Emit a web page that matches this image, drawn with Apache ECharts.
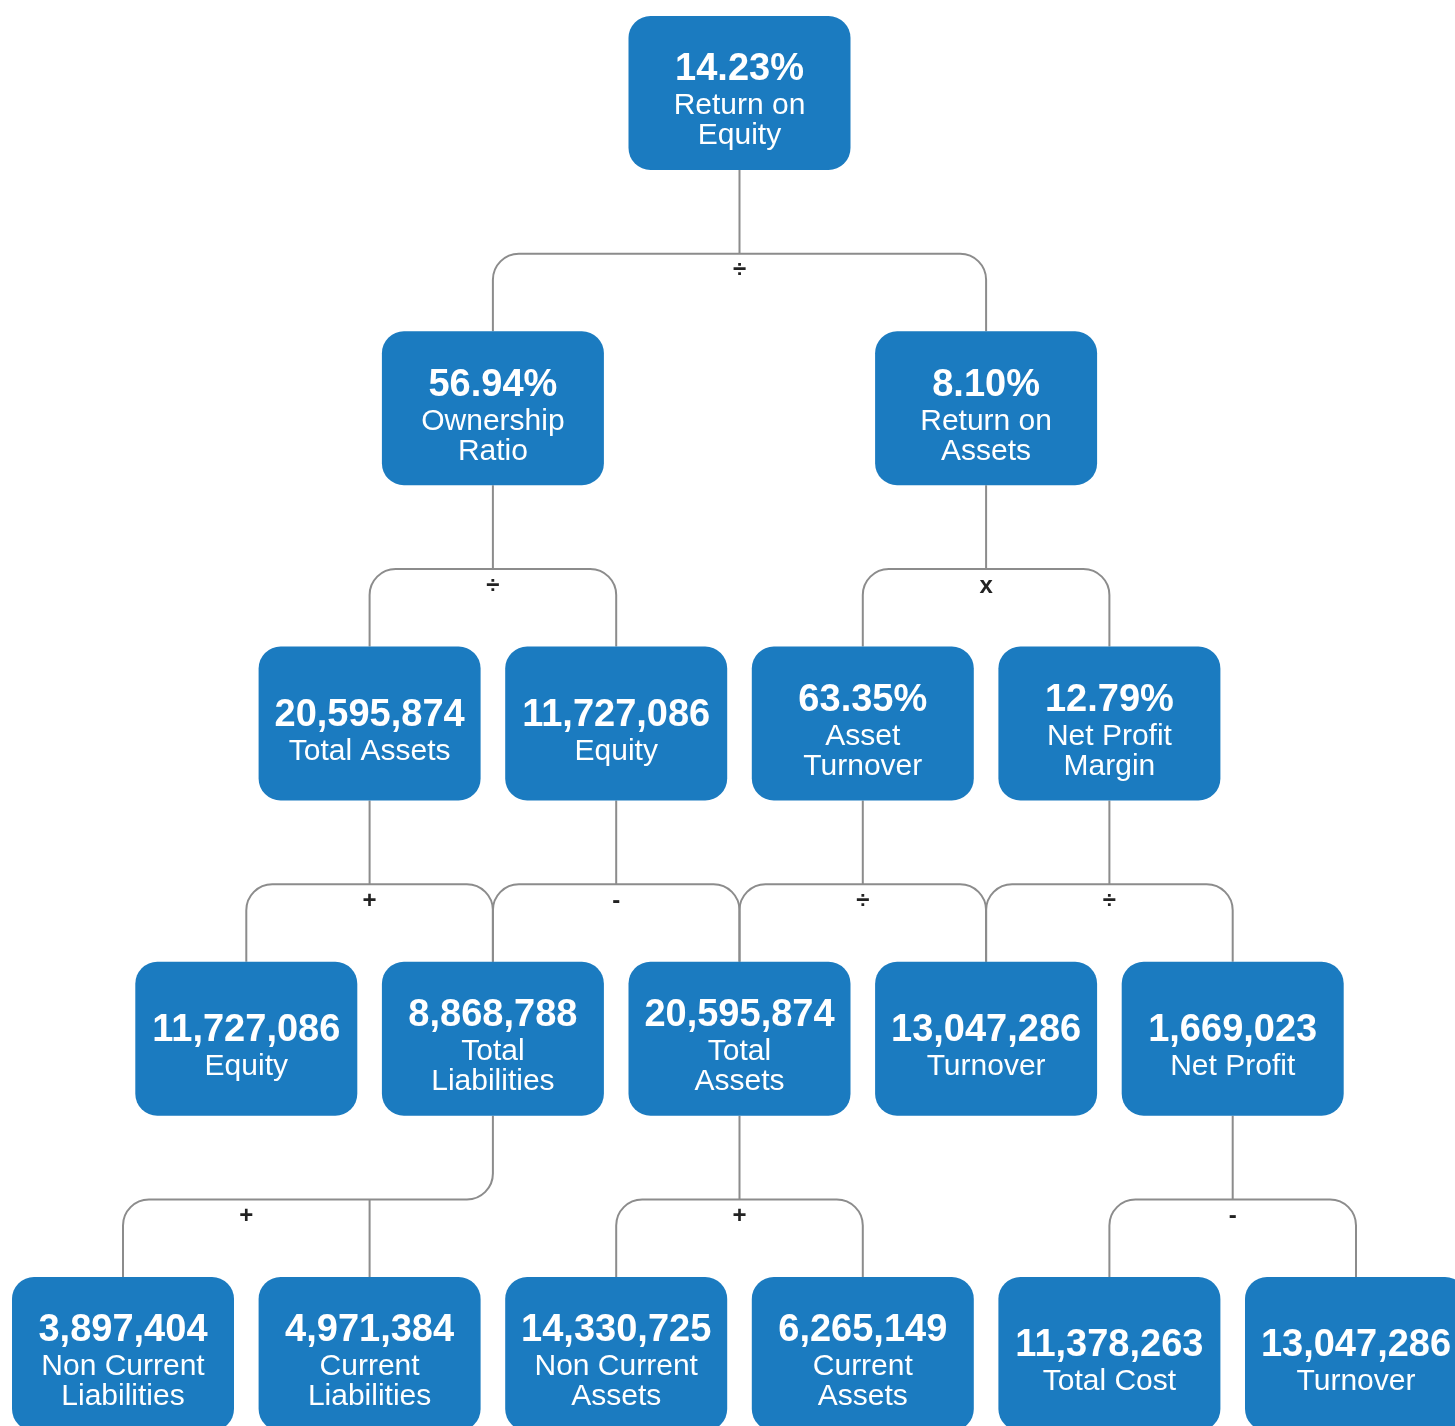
<!DOCTYPE html>
<html>
<head>
<meta charset="utf-8">
<script src="https://cdn.jsdelivr.net/npm/echarts@6/dist/echarts.min.js"></script>
<style>
html,body{margin:0;padding:0;background:#fff;}
#chart{width:1455px;height:1426px;}
</style>
</head>
<body>
<div id="chart"></div>
<script>
// ---- data ----
const nodeValues = [14.23, 56.94, 8.10, 20595874, 11727086, 63.35, 12.79,
  11727086, 8868788, 20595874, 13047286, 1669023,
  3897404, 4971384, 14330725, 6265149, 11378263, 13047286];
const nodeUnits = ['%', '%', '%', '', '', '%', '%',
  '', '', '', '', '',
  '', '', '', '', '', ''];
const nodeLabels = ['Return on\nEquity', 'Ownership\nRatio', 'Return on\nAssets',
  'Total Assets', 'Equity', 'Asset\nTurnover', 'Net Profit\nMargin',
  'Equity', 'Total\nLiabilities', 'Total\nAssets', 'Turnover', 'Net Profit',
  'Non Current\nLiabilities', 'Current\nLiabilities', 'Non Current\nAssets', 'Current\nAssets', 'Total Cost', 'Turnover'];
const nodeLevels = [0, 1, 1, 2, 2, 2, 2, 3, 3, 3, 3, 3, 4, 4, 4, 4, 4, 4];
const nodeSlots  = [5, 3, 7, 2, 4, 6, 8, 1, 3, 5, 7, 9, 0, 2, 4, 6, 8, 10];
const groupParents   = [0, 1, 2, 3, 4, 5, 6, 8, 9, 11];
const groupChildren  = [[1, 2], [3, 4], [5, 6], [7, 8], [8, 9], [9, 10], [10, 11], [12, 13], [14, 15], [16, 17]];
const groupOperators = ['÷', '÷', 'x', '+', '-', '÷', '÷', '+', '+', '-'];

// ---- style constants ----
const BOX_W = 222, BOX_H = 154, BOX_R = 22;
const BOX_COLOR = '#1b7bc0';
const LINE_COLOR = '#8c8c8c';
const CORNER = 26;
const FONT = '"Liberation Sans", Helvetica, Arial, sans-serif';

function fmtValue(i) {
  const v = nodeValues[i];
  if (nodeUnits[i] === '%') return v.toFixed(2) + '%';
  return v.toLocaleString('en-US');
}

function renderBox(params, api) {
  const i = api.value(2);
  const c = api.coord([api.value(0), api.value(1)]);
  const lines = nodeLabels[i].split('\n').map(function (l) { return '{l|' + l + '}'; });
  return {
    type: 'group',
    children: [
      {
        type: 'rect',
        shape: { x: c[0] - BOX_W / 2, y: c[1] - BOX_H / 2, width: BOX_W, height: BOX_H, r: BOX_R },
        style: { fill: BOX_COLOR }
      },
      {
        type: 'text',
        x: c[0], y: c[1] + 7,
        style: {
          text: '{v|' + fmtValue(i) + '}\n' + lines.join('\n'),
          align: 'center', verticalAlign: 'middle',
          fill: '#fff', fontFamily: FONT,
          rich: {
            v: { fontSize: 38, fontWeight: 'bold', lineHeight: 42, fill: '#fff', fontFamily: FONT, align: 'center' },
            l: { fontSize: 30, lineHeight: 30, fill: '#fff', fontFamily: FONT, align: 'center' }
          }
        }
      }
    ]
  };
}

function cornerSeg(from, corner, to) {
  const k = 0.5523;
  const c1 = [from[0] + k * (corner[0] - from[0]), from[1] + k * (corner[1] - from[1])];
  const c2 = [to[0] + k * (corner[0] - to[0]), to[1] + k * (corner[1] - to[1])];
  return ' C' + c1[0] + ' ' + c1[1] + ' ' + c2[0] + ' ' + c2[1] + ' ' + to[0] + ' ' + to[1];
}

function renderLinks(params, api) {
  const g = api.value(2);
  const pLevel = api.value(1);
  const p = api.coord([api.value(0), pLevel]);
  const pBottom = p[1] + BOX_H / 2;
  const hy = api.coord([0, pLevel + 0.51])[1];
  const kids = groupChildren[g].map(function (c) {
    const pt = api.coord([nodeSlots[c], nodeLevels[c]]);
    return { x: pt[0], top: pt[1] - BOX_H / 2 };
  });
  const ends = kids.map(function (k) { return { x: k.x, y: k.top, parent: false }; });
  ends.push({ x: p[0], y: pBottom, parent: true });
  ends.sort(function (a, b) { return a.x - b.x; });
  const L = ends[0], R = ends[ends.length - 1];
  let d = 'M' + L.x + ' ' + L.y;
  if (L.parent) {
    d += ' L' + L.x + ' ' + (hy - CORNER) + cornerSeg([L.x, hy - CORNER], [L.x, hy], [L.x + CORNER, hy]);
  } else {
    d += ' L' + L.x + ' ' + (hy + CORNER) + cornerSeg([L.x, hy + CORNER], [L.x, hy], [L.x + CORNER, hy]);
  }
  d += ' L' + (R.x - CORNER) + ' ' + hy;
  if (R.parent) {
    d += cornerSeg([R.x - CORNER, hy], [R.x, hy], [R.x, hy - CORNER]) + ' L' + R.x + ' ' + R.y;
  } else {
    d += cornerSeg([R.x - CORNER, hy], [R.x, hy], [R.x, hy + CORNER]) + ' L' + R.x + ' ' + R.y;
  }
  for (let j = 1; j < ends.length - 1; j++) {
    const e = ends[j];
    d += ' M' + e.x + ' ' + e.y + ' L' + e.x + ' ' + hy;
  }
  const midX = (kids[0].x + kids[kids.length - 1].x) / 2;
  return {
    type: 'group',
    children: [
      { type: 'path', shape: { pathData: d }, style: { fill: 'none', stroke: LINE_COLOR, lineWidth: 2 } },
      {
        type: 'text', x: midX, y: hy + 17,
        style: {
          text: groupOperators[g], align: 'center', verticalAlign: 'middle',
          fontSize: 24, fontWeight: 'bold', fill: '#222', fontFamily: FONT
        }
      }
    ]
  };
}

const boxData = nodeValues.map(function (v, i) { return [nodeSlots[i], nodeLevels[i], i]; });
const linkData = groupParents.map(function (p, g) { return [nodeSlots[p], nodeLevels[p], g]; });

const chart = echarts.init(document.getElementById('chart'), null, { renderer: 'canvas' });
chart.setOption({
  backgroundColor: '#ffffff',
  animation: false,
  grid: { left: 123, top: 93, width: 1233, height: 1261 },
  xAxis: { type: 'value', min: 0, max: 10, show: false },
  yAxis: { type: 'value', min: 0, max: 4, inverse: true, show: false },
  series: [
    {
      type: 'custom', name: 'links', clip: false, silent: true, z: 1,
      data: linkData, encode: { x: 0, y: 1 },
      renderItem: renderLinks
    },
    {
      type: 'custom', name: 'nodes', clip: false, z: 2,
      data: boxData, encode: { x: 0, y: 1 },
      renderItem: renderBox
    }
  ]
});
</script>
</body>
</html>
